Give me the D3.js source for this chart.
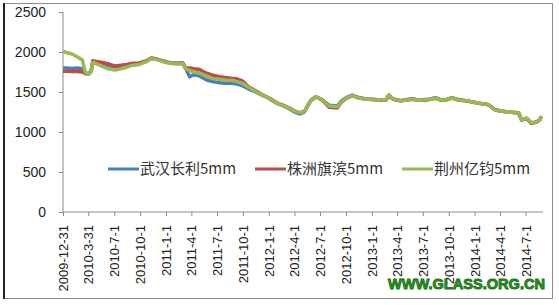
<!DOCTYPE html>
<html>
<head>
<meta charset="utf-8">
<script src="https://cdn.jsdelivr.net/npm/d3@7"></script>
<style>
  body { margin: 0; background: #fff; }
  svg { display: block; }
</style>
</head>
<body>
<svg id="board"></svg>
<script>
let dates = ['2009-12-31','2010-01-15','2010-02-01','2010-02-19','2010-03-10','2010-03-20','2010-04-01','2010-04-10','2010-04-16','2010-05-01',
  '2010-05-20','2010-06-10','2010-07-03','2010-07-25','2010-08-15','2010-09-05','2010-09-25','2010-10-10','2010-10-25','2010-11-10',
  '2010-11-25','2010-12-10','2010-12-25','2011-01-15','2011-02-08','2011-03-01','2011-03-12','2011-03-26','2011-04-10','2011-04-30',
  '2011-05-25','2011-06-15','2011-07-10','2011-07-30','2011-08-25','2011-09-10','2011-09-29','2011-10-20','2011-11-18','2011-12-05',
  '2011-12-23','2012-01-10','2012-01-31','2012-02-20','2012-03-14','2012-04-01','2012-04-18','2012-05-06','2012-05-20','2012-05-31',
  '2012-06-17','2012-07-09','2012-08-02','2012-08-31','2012-09-14','2012-10-02','2012-10-23','2012-11-17','2012-12-10','2013-01-02',
  '2013-02-06','2013-02-20','2013-03-03','2013-03-12','2013-03-21','2013-04-14','2013-05-05','2013-05-23','2013-06-15','2013-07-12',
  '2013-08-16','2013-09-05','2013-09-21','2013-10-12','2013-11-05','2013-12-01','2013-12-25','2014-01-16','2014-02-05','2014-02-20',
  '2014-03-05','2014-03-17','2014-04-10','2014-05-02','2014-05-20','2014-06-06','2014-06-17','2014-07-05','2014-07-22','2014-08-09',
  '2014-08-20','2014-08-27']

let wuhan = [1800,1800,1795,1800,1790,1730,1725,1760,1880,1870,
  1850,1830,1810,1820,1835,1845,1850,1870,1890,1920,
  1915,1895,1880,1860,1855,1860,1790,1690,1720,1700,
  1650,1630,1615,1610,1610,1600,1580,1540,1495,1465,
  1440,1400,1355,1330,1290,1250,1225,1250,1340,1400,
  1440,1400,1335,1325,1385,1430,1460,1430,1415,1410,
  1395,1405,1460,1425,1410,1390,1405,1410,1400,1405,
  1430,1395,1405,1430,1405,1390,1375,1360,1350,1340,
  1300,1275,1260,1250,1245,1240,1150,1170,1110,1125,
  1150,1195]

let zhuzhou = [1760,1760,1755,1755,1750,1730,1730,1760,1890,1880,
  1870,1850,1825,1835,1845,1860,1860,1875,1890,1925,
  1915,1900,1885,1865,1860,1865,1800,1800,1790,1780,
  1735,1710,1690,1680,1670,1665,1640,1570,1510,1475,
  1440,1410,1360,1335,1300,1265,1240,1255,1340,1400,
  1440,1400,1310,1300,1370,1420,1455,1425,1410,1405,
  1400,1400,1460,1425,1405,1390,1400,1415,1400,1395,
  1420,1400,1400,1425,1400,1390,1375,1360,1350,1340,
  1300,1275,1260,1250,1245,1240,1150,1170,1110,1125,
  1150,1195]

let jingzhou = [2010,1990,1975,1940,1900,1745,1730,1760,1870,1850,
  1820,1790,1775,1790,1810,1835,1840,1860,1880,1915,
  1910,1895,1875,1860,1850,1855,1790,1770,1750,1735,
  1700,1670,1660,1650,1645,1630,1610,1560,1500,1470,
  1440,1405,1355,1330,1300,1260,1240,1255,1340,1400,
  1440,1400,1325,1315,1375,1425,1455,1425,1410,1410,
  1400,1405,1460,1425,1410,1390,1400,1410,1400,1400,
  1425,1400,1400,1425,1400,1390,1375,1360,1350,1340,
  1300,1275,1260,1250,1245,1240,1150,1175,1115,1125,
  1150,1195]

let seriesNames = ['武汉长利5mm', '株洲旗滨5mm', '荆州亿钧5mm']
let seriesColors = ['#4a7ebb', '#be4b48', '#98b954']
let tickDates = ['2009-12-31','2010-3-31','2010-7-1','2010-10-1','2011-1-1','2011-4-1','2011-7-1','2011-10-1','2012-1-1','2012-4-1',
  '2012-7-1','2012-10-1','2013-1-1','2013-4-1','2013-7-1','2013-10-1','2014-1-1','2014-4-1','2014-7-1']
let yTicks = [0, 500, 1000, 1500, 2000, 2500]

let width = 559
let height = 305
let parse = d3.timeParse('%Y-%m-%d')

let board = d3.select('#board')
    .attr('width', width)
    .attr('height', height)

// outer frame
board.append('rect')
    .attr('x', 3.5).attr('y', 3.5)
    .attr('width', 549).attr('height', 295)
    .attr('fill', 'none')
    .attr('stroke', '#8c8c8c')
    .attr('stroke-width', 1)
board.append('line')
    .attr('x1', 4).attr('x2', 4).attr('y1', 3).attr('y2', 299)
    .attr('stroke', '#222').attr('stroke-width', 2)

let xScale = d3.scaleTime()
    .domain([parse('2009-12-31'), parse('2014-09-01')])
    .range([63, 543])

let yScale = d3.scaleLinear()
    .domain([0, 2500])
    .range([212, 12])

// y axis
let yAxis = d3.axisLeft(yScale)
    .tickValues(yTicks)
    .tickSize(4)
    .tickFormat(d3.format('d'))
let gy = board.append('g')
    .attr('transform', 'translate(63,0)')
    .call(yAxis)
gy.selectAll('path, line').attr('stroke', '#8c8c8c')
gy.select('.domain').attr('d', 'M0,12V212')
gy.selectAll('text')
    .attr('x', -17)
    .attr('font-family', 'Liberation Sans, Arial, sans-serif')
    .attr('font-size', 14)
    .attr('fill', '#222')

// x axis
let xAxis = d3.axisBottom(xScale)
    .tickValues(tickDates.map(d => d3.timeParse('%Y-%-m-%-d')(d)))
    .tickSize(4)
    .tickFormat((d, i) => tickDates[i])
let gx = board.append('g')
    .attr('transform', 'translate(0,212)')
    .call(xAxis)
gx.selectAll('path, line').attr('stroke', '#8c8c8c')
gx.select('.domain').attr('d', 'M63,0H543')
gx.selectAll('text')
    .attr('transform', 'rotate(-90)')
    .attr('text-anchor', 'end')
    .attr('x', -13)
    .attr('y', 0)
    .attr('dy', '0.35em')
    .attr('font-family', 'Liberation Sans, Arial, sans-serif')
    .attr('font-size', 13)
    .attr('fill', '#222')

// lines
let allSeries = [wuhan, zhuzhou, jingzhou]
let line = d3.line()
    .x((v, i) => xScale(parse(dates[i])))
    .y(v => yScale(v))

board.selectAll('.series')
    .data(allSeries)
    .enter()
    .append('path')
    .attr('class', 'series')
    .attr('d', d => line(d))
    .attr('fill', 'none')
    .attr('stroke', (d, i) => seriesColors[i])
    .attr('stroke-width', 3.5)
    .attr('stroke-linejoin', 'round')

// legend
let legendX = [108, 255, 402]
let legend = board.selectAll('.legend')
    .data(seriesNames)
    .enter()
    .append('g')
    .attr('class', 'legend')
    .attr('transform', (d, i) => 'translate(' + legendX[i] + ',169)')
legend.append('line')
    .attr('x1', 0).attr('x2', 31)
    .attr('stroke', (d, i) => seriesColors[i])
    .attr('stroke-width', 3)
legend.append('text')
    .attr('x', 32)
    .attr('dy', '0.36em')
    .attr('font-family', 'Noto Sans CJK SC, sans-serif')
    .attr('font-size', 15)
    .attr('fill', '#333')
    .text(d => d)

// watermark
board.append('text')
    .attr('x', 545)
    .attr('y', 289)
    .attr('text-anchor', 'end')
    .attr('font-family', 'Liberation Sans, Arial, sans-serif')
    .attr('font-weight', 'bold')
    .attr('font-size', 15)
    .attr('textLength', 157)
    .attr('lengthAdjust', 'spacingAndGlyphs')
    .attr('fill', '#2a9a22')
    .attr('stroke', '#1d6e18')
    .attr('stroke-width', 0.9)
    .text('WWW.GLASS.ORG.CN')
</script>
</body>
</html>
